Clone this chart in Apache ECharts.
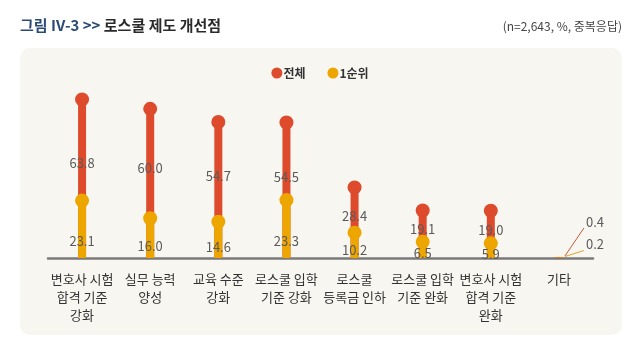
<!DOCTYPE html>
<html>
<head>
<meta charset="utf-8">
<script src="https://cdn.jsdelivr.net/npm/echarts@6/dist/echarts.min.js"></script>
<style>
  html, body { margin: 0; padding: 0; background: #ffffff; }
  #chart { width: 640px; height: 342px; }
</style>
</head>
<body>
<div id="chart"></div>
<script>
// 로스쿨 제도 개선점 (n=2,643, %, 중복응답)
const categories = [
  '변호사 시험\n합격 기준\n강화',
  '실무 능력\n양성',
  '교육 수준\n강화',
  '로스쿨 입학\n기준 강화',
  '로스쿨\n등록금 인하',
  '로스쿨 입학\n기준 완화',
  '변호사 시험\n합격 기준\n완화',
  '기타'
];
const totalValues = [63.8, 60.0, 54.7, 54.5, 28.4, 19.1, 19.0, 0.4];
const firstValues = [23.1, 16.0, 14.6, 23.3, 10.2, 6.5, 5.9, 0.2];

const RED = '#DD4B2C';
const YELLOW = '#EDA500';
const LABEL_GRAY = '#5a5a5a';
const FONT = '"Noto Sans CJK KR", "Noto Sans", sans-serif';
const lastIdx = categories.length - 1;

// round heads on top of each stem (hidden for the tiny last item)
function headData(values) {
  return values.map((v, i) => (i === lastIdx ? { value: v, symbolSize: 0 } : v));
}

// label-only items; the tiny last item is labelled with a guide line instead
function labelData(values) {
  return values.map((v, i) => (i === lastIdx ? { value: v, label: { show: false } } : v));
}

const valueLabel = {
  show: true,
  align: 'center',
  verticalAlign: 'middle',
  color: LABEL_GRAY,
  fontSize: 13,
  fontFamily: FONT,
  formatter: p => p.value.toFixed(1)
};

// guide-line labels for the last category (전체 first, then 1순위)
const calloutData = [
  [lastIdx, totalValues[lastIdx]],
  [lastIdx, firstValues[lastIdx]]
];
const calloutStyle = [
  { color: '#C8593C', dy: -35 },
  { color: '#E2A330', dy: -13 }
];

function renderCallout(params, api) {
  const p = api.coord([api.value(0), api.value(1)]);
  const s = calloutStyle[params.dataIndex];
  const x0 = p[0] + 6;
  const y0 = p[1] - 1;
  const x1 = p[0] + 25;
  const y1 = p[1] + s.dy + 6;
  return {
    type: 'group',
    children: [
      {
        type: 'line',
        shape: { x1: x0, y1: y0, x2: x1, y2: y1 },
        style: { stroke: s.color, lineWidth: 1 }
      },
      {
        type: 'text',
        style: {
          text: api.value(1).toFixed(1),
          x: x1 + 2,
          y: p[1] + s.dy,
          verticalAlign: 'middle',
          align: 'left',
          fill: LABEL_GRAY,
          fontSize: 13,
          fontFamily: FONT
        }
      }
    ]
  };
}

const chart = echarts.init(document.getElementById('chart'), null, { renderer: 'canvas' });

chart.setOption({
  animation: false,
  backgroundColor: '#ffffff',
  textStyle: { fontFamily: FONT },
  graphic: [
    {
      type: 'rect',
      z: -10,
      shape: { x: 20, y: 48, width: 602, height: 287, r: 10 },
      style: { fill: '#F8F6F0' }
    },
    {
      type: 'text',
      left: 20,
      top: 18,
      style: {
        text: '{a|그림 IV-3 >> }{b|로스쿨 제도 개선점}',
        rich: {
          a: { fontSize: 15, fontWeight: 'bold', fill: '#2B4A76', fontFamily: FONT },
          b: { fontSize: 15, fontWeight: 'bold', fill: '#2a2a2a', fontFamily: FONT }
        }
      }
    },
    {
      type: 'text',
      right: 18,
      top: 20,
      style: {
        text: '(n=2,643, %, 중복응답)',
        fontSize: 12,
        fill: '#444444',
        fontFamily: FONT
      }
    }
  ],
  legend: {
    top: 62,
    left: 'center',
    itemGap: 22,
    itemWidth: 11,
    itemHeight: 11,
    icon: 'circle',
    data: ['전체', '1순위'],
    textStyle: { fontSize: 12, fontWeight: 'bold', color: '#333333', fontFamily: FONT, padding: [0, 0, 0, -4] }
  },
  grid: { left: 48, right: 47, top: 84, bottom: 84, containLabel: false },
  xAxis: {
    type: 'category',
    data: categories,
    axisLine: { lineStyle: { color: '#7a7a7a', width: 2.5 } },
    axisTick: { show: false },
    axisLabel: {
      color: '#333333',
      fontSize: 13,
      lineHeight: 18,
      margin: 12,
      interval: 0,
      fontFamily: FONT
    }
  },
  yAxis: {
    type: 'value',
    min: 0,
    max: 70,
    show: false,
    splitLine: { show: false }
  },
  series: [
    // 전체: stem + head
    {
      name: '전체',
      type: 'bar',
      barWidth: 8,
      barGap: '-100%',
      itemStyle: { color: RED },
      data: totalValues,
      z: 2
    },
    {
      name: '전체',
      type: 'scatter',
      symbol: 'circle',
      symbolSize: 14,
      itemStyle: { color: RED, opacity: 1 },
      data: headData(totalValues),
      z: 3
    },
    // 1순위: stem + head
    {
      name: '1순위',
      type: 'bar',
      barWidth: 8,
      barGap: '-100%',
      itemStyle: { color: YELLOW },
      data: firstValues,
      z: 4
    },
    {
      name: '1순위',
      type: 'scatter',
      symbol: 'circle',
      symbolSize: 14,
      itemStyle: { color: YELLOW, opacity: 1 },
      data: headData(firstValues),
      z: 5
    },
    // value labels, drawn above all marks
    {
      name: 'total-labels',
      type: 'bar',
      barWidth: 8,
      barGap: '-100%',
      itemStyle: { color: 'rgba(0,0,0,0)' },
      label: Object.assign({}, valueLabel, { position: ['50%', '40%'] }),
      data: labelData(totalValues),
      silent: true,
      z: 10
    },
    {
      name: 'first-labels',
      type: 'bar',
      barWidth: 8,
      barGap: '-100%',
      itemStyle: { color: 'rgba(0,0,0,0)' },
      label: Object.assign({}, valueLabel, { position: ['50%', '70%'] }),
      data: labelData(firstValues),
      silent: true,
      z: 11
    },
    {
      name: 'callouts',
      type: 'custom',
      renderItem: renderCallout,
      data: calloutData,
      silent: true,
      z: 12
    }
  ]
});
</script>
</body>
</html>
